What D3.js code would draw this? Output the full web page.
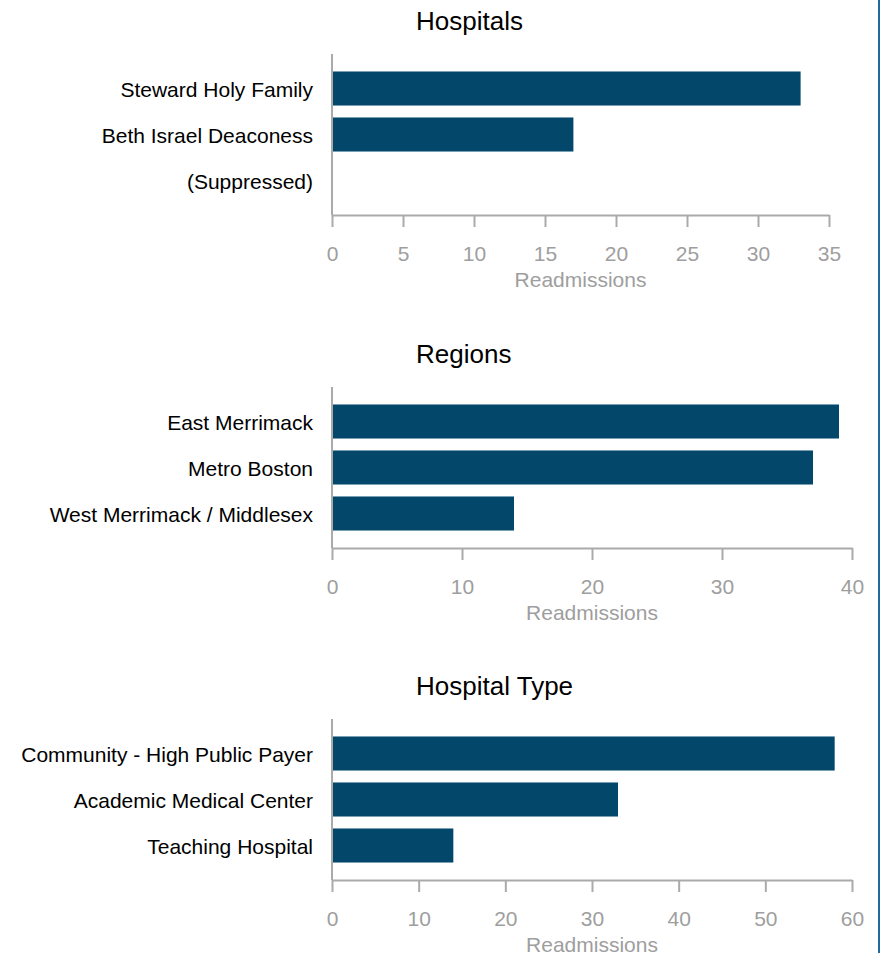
<!DOCTYPE html>
<html><head><meta charset="utf-8">
<script src="https://cdn.jsdelivr.net/npm/d3@7/dist/d3.min.js"></script>
<style>
html,body{margin:0;padding:0;background:#fff;}
svg{display:block;font-family:"Liberation Sans",Arial,sans-serif;}
</style></head>
<body>
<svg id="chart" width="884" height="953"></svg>
<script>
// Data
const hospitalsCats = ["Steward Holy Family", "Beth Israel Deaconess", "(Suppressed)"];
const hospitalsVals = [33, 17, null];
const hospitalsTicks = [0, 5, 10, 15, 20, 25, 30, 35];

const regionsCats = ["East Merrimack", "Metro Boston", "West Merrimack / Middlesex"];
const regionsVals = [39, 37, 14];
const regionsTicks = [0, 10, 20, 30, 40];

const typeCats = ["Community - High Public Payer", "Academic Medical Center", "Teaching Hospital"];
const typeVals = [58, 33, 14];
const typeTicks = [0, 10, 20, 30, 40, 50, 60];

const titles = ["Hospitals", "Regions", "Hospital Type"];
const axisTitle = "Readmissions";

const charts = [
  {title: titles[0], cats: hospitalsCats, vals: hospitalsVals, ticks: hospitalsTicks, top: 0, xEnd: 829},
  {title: titles[1], cats: regionsCats, vals: regionsVals, ticks: regionsTicks, top: 333, xEnd: 852},
  {title: titles[2], cats: typeCats, vals: typeVals, ticks: typeTicks, top: 665, xEnd: 852}
];

const svg = d3.select("#chart");
const barColor = "#03476b";
const axisColor = "#aaaaaa";
const tickText = "#9e9e9e";

charts.forEach(c => {
  const g = svg.append("g").attr("transform", `translate(0,${c.top})`);
  const x = d3.scaleLinear().domain([0, d3.max(c.ticks)]).range([332, c.xEnd]);
  const y = d3.scaleBand().domain(c.cats).range([54, 215]).paddingInner(0.26).paddingOuter(0.38);

  g.append("text").attr("x", 416).attr("y", 30)
    .attr("font-size", 26).attr("fill", "#000").text(c.title);

  // bars
  g.selectAll("rect.bar").data(c.cats.map((k, i) => ({k, v: c.vals[i]})).filter(d => d.v != null))
    .enter().append("rect").attr("class", "bar")
    .attr("x", x(0)).attr("y", d => y(d.k))
    .attr("width", d => x(d.v) - x(0)).attr("height", y.bandwidth())
    .attr("fill", barColor);

  // y axis
  const ya = g.append("g").attr("transform", `translate(${x(0)},0)`)
    .call(d3.axisLeft(y).tickSize(0).tickPadding(19));
  ya.select(".domain").attr("stroke", axisColor).attr("stroke-width", 2).attr("d", "M0,54V215");
  ya.selectAll("text").attr("font-size", 21).attr("fill", "#000").attr("dy", "0.4em")
    .attr("font-family", "Liberation Sans, Arial, sans-serif");

  // x axis
  const xa = g.append("g").attr("transform", "translate(0,215)")
    .call(d3.axisBottom(x).tickValues(c.ticks).tickSize(12).tickSizeOuter(0).tickPadding(19));
  xa.select(".domain").attr("stroke", axisColor).attr("stroke-width", 2);
  xa.selectAll(".tick line").attr("stroke", axisColor).attr("stroke-width", 2);
  xa.selectAll("text").attr("font-size", 21).attr("fill", tickText)
    .attr("font-family", "Liberation Sans, Arial, sans-serif");

  g.append("text").attr("x", (332 + c.xEnd) / 2).attr("y", 287)
    .attr("text-anchor", "middle").attr("font-size", 21).attr("fill", tickText).text(axisTitle);
});

// right border
svg.append("line").attr("x1", 879).attr("x2", 879).attr("y1", 0).attr("y2", 953)
  .attr("stroke", "#1f6a9a").attr("stroke-width", 2);
</script>
</body></html>
